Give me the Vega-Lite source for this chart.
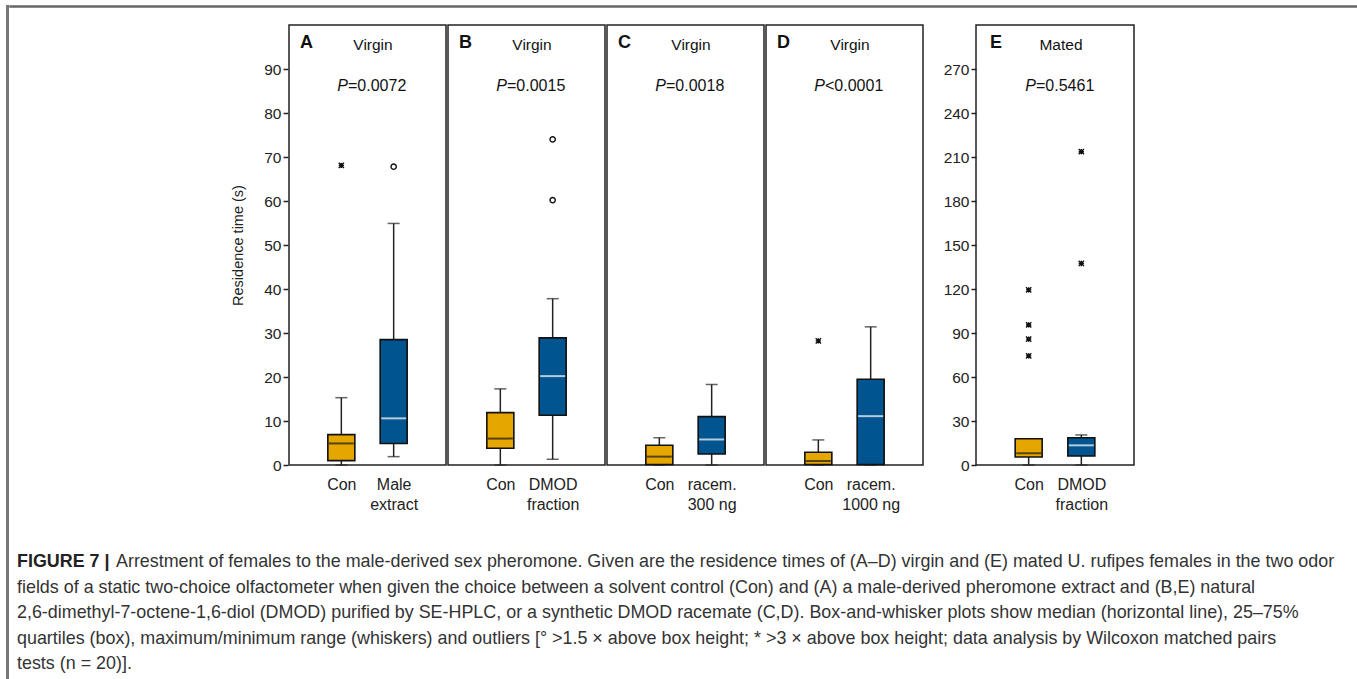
{
  "$schema": "https://vega.github.io/schema/vega-lite/v6.json",
  "padding": {"left": 6, "top": 5, "right": 0, "bottom": 0},
  "background": "white",
  "config": {
    "font": "Liberation Sans",
    "view": {"stroke": "#222", "strokeWidth": 1.5},
    "axisY": {"domain": false, "grid": false, "ticks": true, "tickSize": 5, "tickWidth": 1.5, "tickColor": "#222", "labelFontSize": 15.5, "labelColor": "#222", "labelPadding": 2, "titleFontSize": 14.5, "titleFontWeight": "normal", "titleColor": "#222", "titlePadding": 18},
    "axisX": {"domain": false, "ticks": false, "grid": false, "labelAngle": 0, "labelFontSize": 16, "labelColor": "#222", "labelPadding": 11, "labelLineHeight": 20, "labelOverlap": false, "labelBound": false}
  },
  "datasets": {
    "d": [
      {"kind": "box", "panel": "A", "group": "Con", "role": "Con", "min": 0, "q1": 1.0, "median": 4.9, "q3": 6.9, "max": 15.3},
      {"kind": "box", "panel": "A", "group": "Male|extract", "role": "Trt", "min": 1.9, "q1": 4.9, "median": 10.6, "q3": 28.5, "max": 54.9},
      {"kind": "box", "panel": "B", "group": "Con", "role": "Con", "min": 0, "q1": 3.8, "median": 6.0, "q3": 11.9, "max": 17.3},
      {"kind": "box", "panel": "B", "group": "DMOD|fraction", "role": "Trt", "min": 1.3, "q1": 11.3, "median": 20.2, "q3": 28.9, "max": 37.8},
      {"kind": "box", "panel": "C", "group": "Con", "role": "Con", "min": 0, "q1": 0.1, "median": 1.9, "q3": 4.5, "max": 6.2},
      {"kind": "box", "panel": "C", "group": "racem.|300 ng", "role": "Trt", "min": 0, "q1": 2.5, "median": 5.8, "q3": 11.0, "max": 18.3},
      {"kind": "box", "panel": "D", "group": "Con", "role": "Con", "min": 0, "q1": 0.1, "median": 0.9, "q3": 2.9, "max": 5.7},
      {"kind": "box", "panel": "D", "group": "racem.|1000 ng", "role": "Trt", "min": 0, "q1": 0.1, "median": 11.1, "q3": 19.5, "max": 31.4},
      {"kind": "box", "panel": "E", "group": "Con", "role": "Con", "min": 0, "q1": 5.5, "median": 8.0, "q3": 17.9, "max": 17.9},
      {"kind": "box", "panel": "E", "group": "DMOD|fraction", "role": "Trt", "min": 0, "q1": 6.1, "median": 13.4, "q3": 18.6, "max": 20.5},
      {"kind": "out", "panel": "A", "group": "Con", "type": "star", "value": 68.1},
      {"kind": "out", "panel": "A", "group": "Male|extract", "type": "circle", "value": 67.8},
      {"kind": "out", "panel": "B", "group": "DMOD|fraction", "type": "circle", "value": 74.0},
      {"kind": "out", "panel": "B", "group": "DMOD|fraction", "type": "circle", "value": 60.2},
      {"kind": "out", "panel": "D", "group": "Con", "type": "star", "value": 28.2},
      {"kind": "out", "panel": "E", "group": "Con", "type": "star", "value": 119.4},
      {"kind": "out", "panel": "E", "group": "Con", "type": "star", "value": 95.5},
      {"kind": "out", "panel": "E", "group": "Con", "type": "star", "value": 85.8},
      {"kind": "out", "panel": "E", "group": "Con", "type": "star", "value": 74.4},
      {"kind": "out", "panel": "E", "group": "DMOD|fraction", "type": "star", "value": 213.6},
      {"kind": "out", "panel": "E", "group": "DMOD|fraction", "type": "star", "value": 137.4},
      {"kind": "ann", "panel": "A", "letter": "A", "state": "Virgin", "pstat": "=0.0072"},
      {"kind": "ann", "panel": "B", "letter": "B", "state": "Virgin", "pstat": "=0.0015"},
      {"kind": "ann", "panel": "C", "letter": "C", "state": "Virgin", "pstat": "=0.0018"},
      {"kind": "ann", "panel": "D", "letter": "D", "state": "Virgin", "pstat": "<0.0001"},
      {"kind": "ann", "panel": "E", "letter": "E", "state": "Mated", "pstat": "=0.5461"}
    ],
    "cap": [
      {"line": 1, "seg": "head", "text": "FIGURE 7 |"},
      {"line": 1, "seg": "body1", "text": "Arrestment of females to the male-derived sex pheromone. Given are the residence times of (A–D) virgin and (E) mated U. rufipes females in the two odor"},
      {"line": 2, "seg": "body", "text": "fields of a static two-choice olfactometer when given the choice between a solvent control (Con) and (A) a male-derived pheromone extract and (B,E) natural"},
      {"line": 3, "seg": "body", "text": "2,6-dimethyl-7-octene-1,6-diol (DMOD) purified by SE-HPLC, or a synthetic DMOD racemate (C,D). Box-and-whisker plots show median (horizontal line), 25–75%"},
      {"line": 4, "seg": "body", "text": "quartiles (box), maximum/minimum range (whiskers) and outliers [° >1.5 × above box height; * >3 × above box height; data analysis by Wilcoxon matched pairs"},
      {"line": 5, "seg": "body", "text": "tests (n = 20)]."}
    ]
  },
  "spacing": 0,
  "hconcat": [
    {"width": 1, "height": 720, "view": {"stroke": "#777", "strokeWidth": 2}, "data": {"values": []}, "mark": {"type": "text", "text": ""}, "encoding": {}},
    {
      "spacing": 16,
      "vconcat": [
        {"width": 1347, "height": 1, "view": {"stroke": "#666", "strokeWidth": 1.5}, "data": {"values": []}, "mark": {"type": "text", "text": ""}, "encoding": {}},
        {
          "spacing": 18,
          "hconcat": [
            {"width": 202, "height": 1, "view": {"stroke": null, "fill": "white"}, "data": {"values": []}, "mark": {"type": "text", "text": ""}, "encoding": {}},
            {
              "data": {"name": "d"},
              "transform": [{"filter": "datum.panel !== 'E'"}],
              "facet": {"column": {"field": "panel", "type": "nominal", "header": {"labels": false, "title": null}}},
              "spacing": 0,
              "resolve": {"scale": {"x": "independent"}},
              "spec": {
                "width": 157,
                "height": 440,
                "layer": [
                  {"transform": [{"filter": "datum.kind === 'box'"}], "mark": {"type": "rule", "color": "#222", "strokeWidth": 1.5},
                   "encoding": {
                     "x": {"field": "group", "type": "nominal", "scale": {"type": "point", "padding": 1}, "title": null, "axis": {"labelExpr": "split(datum.label, '|')"}},
                     "y": {"field": "min", "type": "quantitative", "scale": {"domain": [0, 100], "nice": false}, "title": "Residence time (s)", "axis": {"values": [0, 10, 20, 30, 40, 50, 60, 70, 80, 90]}},
                     "y2": {"field": "max"}}},
                  {"transform": [{"filter": "datum.kind === 'box'"}], "mark": {"type": "tick", "color": "#222", "size": 12, "thickness": 1.5},
                   "encoding": {
                     "x": {"field": "group", "type": "nominal", "scale": {"type": "point", "padding": 1}, "title": null},
                     "y": {"field": "min", "type": "quantitative", "scale": {"domain": [0, 100], "nice": false}, "title": "Residence time (s)"}}},
                  {"transform": [{"filter": "datum.kind === 'box'"}], "mark": {"type": "tick", "color": "#222", "size": 12, "thickness": 1.5},
                   "encoding": {
                     "x": {"field": "group", "type": "nominal", "scale": {"type": "point", "padding": 1}, "title": null},
                     "y": {"field": "max", "type": "quantitative", "scale": {"domain": [0, 100], "nice": false}, "title": "Residence time (s)"}}},
                  {"transform": [{"filter": "datum.kind === 'box'"}], "mark": {"type": "bar", "size": 27, "stroke": "#111", "strokeWidth": 1.6},
                   "encoding": {
                     "x": {"field": "group", "type": "nominal", "scale": {"type": "point", "padding": 1}, "title": null},
                     "y": {"field": "q1", "type": "quantitative", "scale": {"domain": [0, 100], "nice": false}, "title": "Residence time (s)"},
                     "y2": {"field": "q3"},
                     "fill": {"condition": {"test": "datum.role === 'Con'", "value": "#E6A600"}, "value": "#00548F"}}},
                  {"transform": [{"filter": "datum.kind === 'box'"}], "mark": {"type": "tick", "size": 25, "thickness": 2},
                   "encoding": {
                     "x": {"field": "group", "type": "nominal", "scale": {"type": "point", "padding": 1}, "title": null},
                     "y": {"field": "median", "type": "quantitative", "scale": {"domain": [0, 100], "nice": false}, "title": "Residence time (s)"},
                     "color": {"condition": {"test": "datum.role === 'Con'", "value": "#1a1a1a"}, "value": "#ffffff"}}},
                  {"transform": [{"filter": "datum.kind === 'out'"}], "mark": {"type": "point", "filled": false, "color": "#111", "strokeWidth": 1.4, "size": 28, "opacity": 1},
                   "encoding": {
                     "x": {"field": "group", "type": "nominal", "scale": {"type": "point", "padding": 1}, "title": null},
                     "y": {"field": "value", "type": "quantitative", "scale": {"domain": [0, 100], "nice": false}, "title": "Residence time (s)"},
                     "shape": {"field": "type", "type": "nominal", "scale": {"domain": ["circle", "star"], "range": ["circle", "M-1,-1L1,1M-1,1L1,-1M-1,0L1,0M0,-1L0,1"]}, "legend": null}}},
                  {"transform": [{"filter": "datum.kind === 'ann'"}], "mark": {"type": "text", "align": "left", "baseline": "alphabetic", "x": 11, "y": 23, "fontSize": 18, "fontWeight": "bold", "color": "#111"},
                   "encoding": {"text": {"field": "letter"}}},
                  {"transform": [{"filter": "datum.kind === 'ann'"}], "mark": {"type": "text", "align": "center", "baseline": "alphabetic", "x": 84, "y": 25, "fontSize": 15.5, "color": "#111"},
                   "encoding": {"text": {"field": "state"}}},
                  {"transform": [{"filter": "datum.kind === 'ann'"}], "mark": {"type": "text", "align": "right", "baseline": "alphabetic", "x": 59, "y": 66, "fontSize": 16, "fontStyle": "italic", "color": "#111", "text": "P"},
                   "encoding": {}},
                  {"transform": [{"filter": "datum.kind === 'ann'"}], "mark": {"type": "text", "align": "left", "baseline": "alphabetic", "x": 59, "y": 66, "fontSize": 16, "color": "#111"},
                   "encoding": {"text": {"field": "pstat"}}}
                ]
              }
            },
            {
              "data": {"name": "d"},
              "transform": [{"filter": "datum.panel === 'E'"}],
              "width": 158,
              "height": 440,
              "layer": [
                {"transform": [{"filter": "datum.kind === 'box'"}], "mark": {"type": "rule", "color": "#222", "strokeWidth": 1.5},
                 "encoding": {
                   "x": {"field": "group", "type": "nominal", "scale": {"type": "point", "padding": 1}, "title": null, "axis": {"labelExpr": "split(datum.label, '|')"}},
                   "y": {"field": "min", "type": "quantitative", "scale": {"domain": [0, 300], "nice": false}, "title": null, "axis": {"values": [0, 30, 60, 90, 120, 150, 180, 210, 240, 270]}},
                   "y2": {"field": "max"}}},
                {"transform": [{"filter": "datum.kind === 'box'"}], "mark": {"type": "tick", "color": "#222", "size": 12, "thickness": 1.5},
                 "encoding": {
                   "x": {"field": "group", "type": "nominal", "scale": {"type": "point", "padding": 1}, "title": null},
                   "y": {"field": "min", "type": "quantitative", "scale": {"domain": [0, 300], "nice": false}, "title": null}}},
                {"transform": [{"filter": "datum.kind === 'box'"}], "mark": {"type": "tick", "color": "#222", "size": 12, "thickness": 1.5},
                 "encoding": {
                   "x": {"field": "group", "type": "nominal", "scale": {"type": "point", "padding": 1}, "title": null},
                   "y": {"field": "max", "type": "quantitative", "scale": {"domain": [0, 300], "nice": false}, "title": null}}},
                {"transform": [{"filter": "datum.kind === 'box'"}], "mark": {"type": "bar", "size": 27, "stroke": "#111", "strokeWidth": 1.6},
                 "encoding": {
                   "x": {"field": "group", "type": "nominal", "scale": {"type": "point", "padding": 1}, "title": null},
                   "y": {"field": "q1", "type": "quantitative", "scale": {"domain": [0, 300], "nice": false}, "title": null},
                   "y2": {"field": "q3"},
                   "fill": {"condition": {"test": "datum.role === 'Con'", "value": "#E6A600"}, "value": "#00548F"}}},
                {"transform": [{"filter": "datum.kind === 'box'"}], "mark": {"type": "tick", "size": 25, "thickness": 2},
                 "encoding": {
                   "x": {"field": "group", "type": "nominal", "scale": {"type": "point", "padding": 1}, "title": null},
                   "y": {"field": "median", "type": "quantitative", "scale": {"domain": [0, 300], "nice": false}, "title": null},
                   "color": {"condition": {"test": "datum.role === 'Con'", "value": "#1a1a1a"}, "value": "#ffffff"}}},
                {"transform": [{"filter": "datum.kind === 'out'"}], "mark": {"type": "point", "filled": false, "color": "#111", "strokeWidth": 1.4, "size": 28, "opacity": 1},
                 "encoding": {
                   "x": {"field": "group", "type": "nominal", "scale": {"type": "point", "padding": 1}, "title": null},
                   "y": {"field": "value", "type": "quantitative", "scale": {"domain": [0, 300], "nice": false}, "title": null},
                   "shape": {"field": "type", "type": "nominal", "scale": {"domain": ["circle", "star"], "range": ["circle", "M-1,-1L1,1M-1,1L1,-1M-1,0L1,0M0,-1L0,1"]}, "legend": null}}},
                {"transform": [{"filter": "datum.kind === 'ann'"}], "mark": {"type": "text", "align": "left", "baseline": "alphabetic", "x": 14, "y": 23, "fontSize": 18, "fontWeight": "bold", "color": "#111"},
                 "encoding": {"text": {"field": "letter"}}},
                {"transform": [{"filter": "datum.kind === 'ann'"}], "mark": {"type": "text", "align": "center", "baseline": "alphabetic", "x": 85, "y": 25, "fontSize": 15.5, "color": "#111"},
                 "encoding": {"text": {"field": "state"}}},
                {"transform": [{"filter": "datum.kind === 'ann'"}], "mark": {"type": "text", "align": "right", "baseline": "alphabetic", "x": 60, "y": 66, "fontSize": 16, "fontStyle": "italic", "color": "#111", "text": "P"},
                 "encoding": {}},
                {"transform": [{"filter": "datum.kind === 'ann'"}], "mark": {"type": "text", "align": "left", "baseline": "alphabetic", "x": 60, "y": 66, "fontSize": 16, "color": "#111"},
                 "encoding": {"text": {"field": "pstat"}}}
              ]
            }
          ]
        },
        {
          "width": 1347,
          "height": 180,
          "view": {"stroke": null},
          "data": {"name": "cap"},
          "encoding": {
            "y": {"field": "line", "type": "quantitative", "scale": {"domain": [-0.4902, 6.5686], "reverse": true, "nice": false, "zero": false}, "axis": null},
            "text": {"field": "text"}
          },
          "layer": [
            {"transform": [{"filter": "datum.seg === 'head'"}], "mark": {"type": "text", "align": "left", "baseline": "alphabetic", "x": 7, "fontWeight": "bold", "fontSize": 17.9, "color": "#222"}},
            {"transform": [{"filter": "datum.seg === 'body1'"}], "mark": {"type": "text", "align": "left", "baseline": "alphabetic", "x": 106, "fontSize": 17.9, "color": "#333"}},
            {"transform": [{"filter": "datum.seg === 'body'"}], "mark": {"type": "text", "align": "left", "baseline": "alphabetic", "x": 7, "fontSize": 17.9, "color": "#333"}}
          ]
        }
      ]
    },
    {"width": 1, "height": 720, "view": {"stroke": "#777", "strokeWidth": 2}, "data": {"values": []}, "mark": {"type": "text", "text": ""}, "encoding": {}}
  ]
}
